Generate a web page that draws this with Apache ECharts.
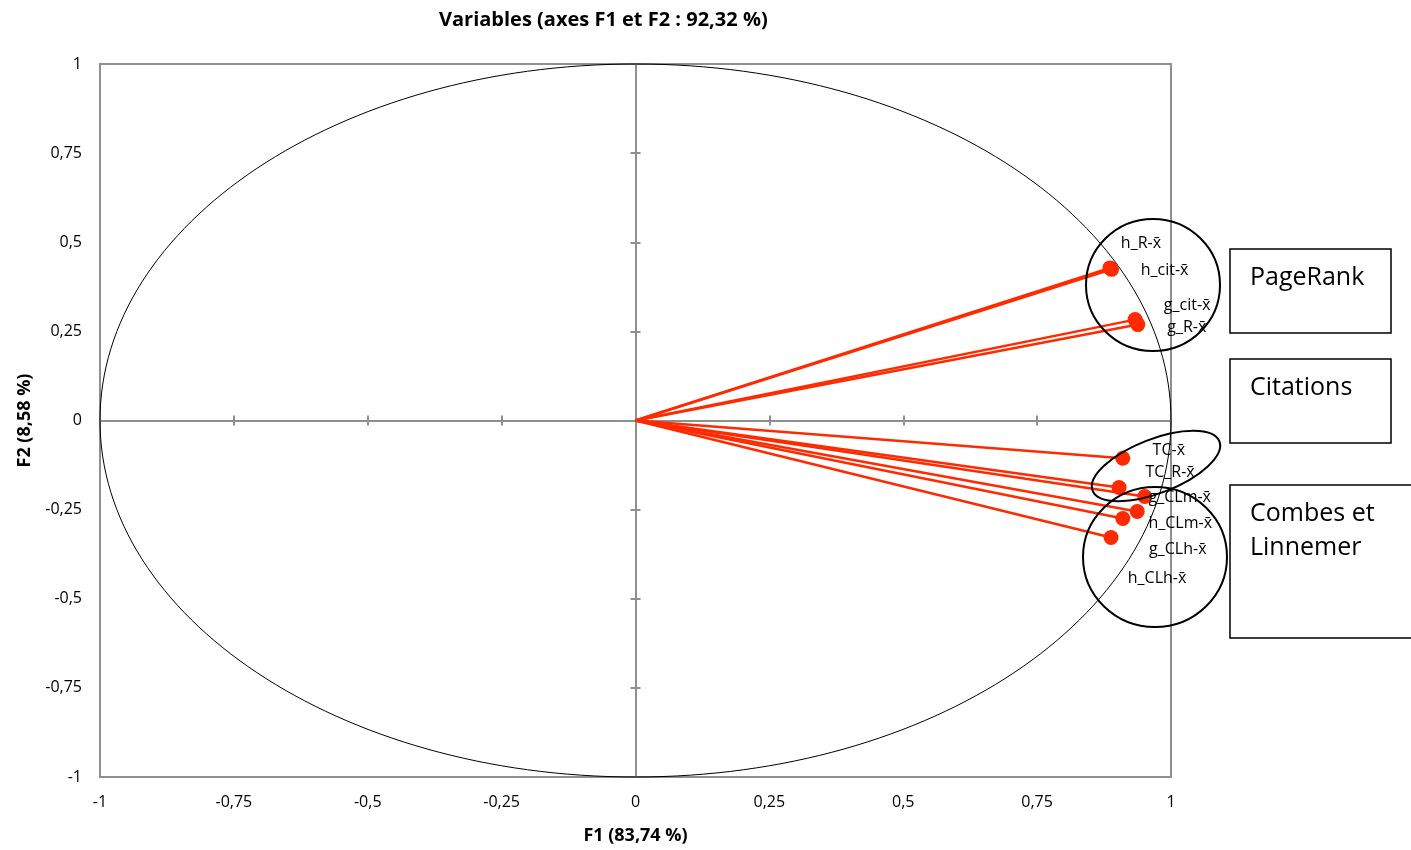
<!DOCTYPE html>
<html><head><meta charset="utf-8">
<script src="https://cdn.jsdelivr.net/npm/echarts@6/dist/echarts.min.js"></script>
<style>html,body{margin:0;padding:0;background:#fff}#c{width:1411px;height:850px}</style>
</head><body><div id="c"></div>
<script>
const names = ['h_R-x̄','h_cit-x̄','g_cit-x̄','g_R-x̄','TC-x̄','TC_R-x̄','g_CLm-x̄','h_CLm-x̄','g_CLh-x̄','h_CLh-x̄'];
const f1 = [0.886, 0.889, 0.933, 0.938, 0.910, 0.903, 0.951, 0.937, 0.910, 0.888];
const f2 = [0.428, 0.424, 0.283, 0.269, -0.106, -0.188, -0.213, -0.255, -0.275, -0.328];
const tickValues = [-1, -0.75, -0.5, -0.25, 0, 0.25, 0.5, 0.75, 1];
const groupNames = ['PageRank', 'Citations', 'Combes et\nLinnemer'];
const titleText = 'Variables (axes F1 et F2 : 92,32 %)';
const xName = 'F1 (83,74 %)';
const yName = 'F2 (8,58 %)';

// label offsets (pixels) for each variable label
const labelOffsets = [[31,-24],[53,1],[52,-14],[49,3],[46,-8],[51,-15],[35,1],[43,12],[55,31],[46,41]];

const RED = '#ff2a00';
const GRAY = '#8f8f8f';
const FONT = 'Open Sans';
const fmt = v => String(v).replace('.', ',');

const chart = echarts.init(document.getElementById('c'), null, {renderer: 'canvas'});

function baseAxis(extra) {
  return Object.assign({
    type: 'value', min: tickValues[0], max: tickValues[tickValues.length - 1], interval: 0.25,
    splitLine: {show: false}, axisTick: {show: false}, axisLabel: {show: false},
    axisLine: {show: true, onZero: false, lineStyle: {color: GRAY, width: 2}}
  }, extra);
}

const xAxis = [
  baseAxis({position: 'bottom',
    axisLabel: {show: true, formatter: fmt, margin: 17, fontSize: 16, color: '#000', fontFamily: FONT},
    name: xName, nameLocation: 'middle', nameGap: 50,
    nameTextStyle: {fontWeight: 'bold', fontSize: 18, color: '#000', fontFamily: FONT}}),
  baseAxis({position: 'top'}),
  baseAxis({position: 'bottom', axisLine: {show: true, onZero: true, lineStyle: {color: GRAY, width: 2}},
    axisTick: {show: true, length: 5, inside: false, lineStyle: {color: GRAY, width: 2}}}),
  baseAxis({position: 'bottom', axisLine: {show: true, onZero: true, lineStyle: {color: GRAY, width: 2}},
    axisTick: {show: true, length: 5, inside: true, lineStyle: {color: GRAY, width: 2}}})
];
const yAxis = [
  baseAxis({position: 'left',
    axisLabel: {show: true, formatter: fmt, margin: 18, fontSize: 16, color: '#000', fontFamily: FONT},
    name: yName, nameLocation: 'middle', nameGap: 66, nameRotate: 90,
    nameTextStyle: {fontWeight: 'bold', fontSize: 18, color: '#000', fontFamily: FONT}}),
  baseAxis({position: 'right'}),
  baseAxis({position: 'left', axisLine: {show: true, onZero: true, lineStyle: {color: GRAY, width: 2}},
    axisTick: {show: true, length: 5, inside: false, lineStyle: {color: GRAY, width: 2}}}),
  baseAxis({position: 'left', axisLine: {show: true, onZero: true, lineStyle: {color: GRAY, width: 2}},
    axisTick: {show: true, length: 5, inside: true, lineStyle: {color: GRAY, width: 2}}})
];

const series = names.map((n, i) => ({
  type: 'line', name: n, xAxisIndex: 0, yAxisIndex: 0, z: 5,
  data: [
    {value: [0, 0], symbolSize: 0, label: {show: false}},
    {value: [f1[i], f2[i]], symbolSize: 15,
     label: {show: true, position: 'inside', offset: labelOffsets[i], formatter: n,
       color: '#000', fontSize: 16, fontFamily: FONT}}
  ],
  symbol: 'circle', showSymbol: true,
  lineStyle: {color: RED, width: 2.5},
  itemStyle: {color: RED},
  emphasis: {disabled: true},
  animation: false
}));

const boxText = {fontSize: 25, fontFamily: FONT, fill: '#000', lineHeight: 34};
const graphic = [
  // group circles
  {type: 'ellipse', z: 10, shape: {cx: 1153, cy: 285, rx: 67, ry: 66}, style: {fill: 'none', stroke: '#000', lineWidth: 2}},
  {type: 'ellipse', z: 10, x: 1156, y: 466, rotation: 0.37, shape: {cx: 0, cy: 0, rx: 68, ry: 27}, style: {fill: 'none', stroke: '#000', lineWidth: 2}},
  {type: 'ellipse', z: 10, shape: {cx: 1155, cy: 557, rx: 72, ry: 70}, style: {fill: 'none', stroke: '#000', lineWidth: 2}},
  // boxes
  {type: 'rect', z: 10, shape: {x: 1230, y: 249, width: 161, height: 84}, style: {fill: 'none', stroke: '#000', lineWidth: 1.5}},
  {type: 'rect', z: 10, shape: {x: 1230, y: 359, width: 161, height: 84}, style: {fill: 'none', stroke: '#000', lineWidth: 1.5}},
  {type: 'rect', z: 10, shape: {x: 1230, y: 485, width: 190, height: 153}, style: {fill: 'none', stroke: '#000', lineWidth: 1.5}},
  {type: 'text', z: 10, x: 1250, y: 261, style: Object.assign({text: groupNames[0]}, boxText)},
  {type: 'text', z: 10, x: 1250, y: 371, style: Object.assign({text: groupNames[1]}, boxText)},
  {type: 'text', z: 10, x: 1250, y: 497, style: Object.assign({text: groupNames[2]}, boxText)}
];

chart.setOption({
  animation: false,
  backgroundColor: '#fff',
  title: {text: titleText, left: 434, top: 5,
    textStyle: {fontSize: 20, fontWeight: 'bold', color: '#000', fontFamily: FONT}},
  grid: {left: 100, right: 240, top: 64, bottom: 72, containLabel: false},
  xAxis: xAxis, yAxis: yAxis,
  series: series,
  graphic: graphic
});

// correlation circle (radius 1) in data coordinates
const c0 = chart.convertToPixel({xAxisIndex: 0, yAxisIndex: 0}, [0, 0]);
const c1 = chart.convertToPixel({xAxisIndex: 0, yAxisIndex: 0}, [1, 1]);
graphic.push({type: 'ellipse', z: 1, silent: true,
  shape: {cx: c0[0], cy: c0[1], rx: Math.abs(c1[0] - c0[0]), ry: Math.abs(c1[1] - c0[1])},
  style: {fill: 'none', stroke: '#000', lineWidth: 1}});
chart.setOption({graphic: graphic});
</script></body></html>
